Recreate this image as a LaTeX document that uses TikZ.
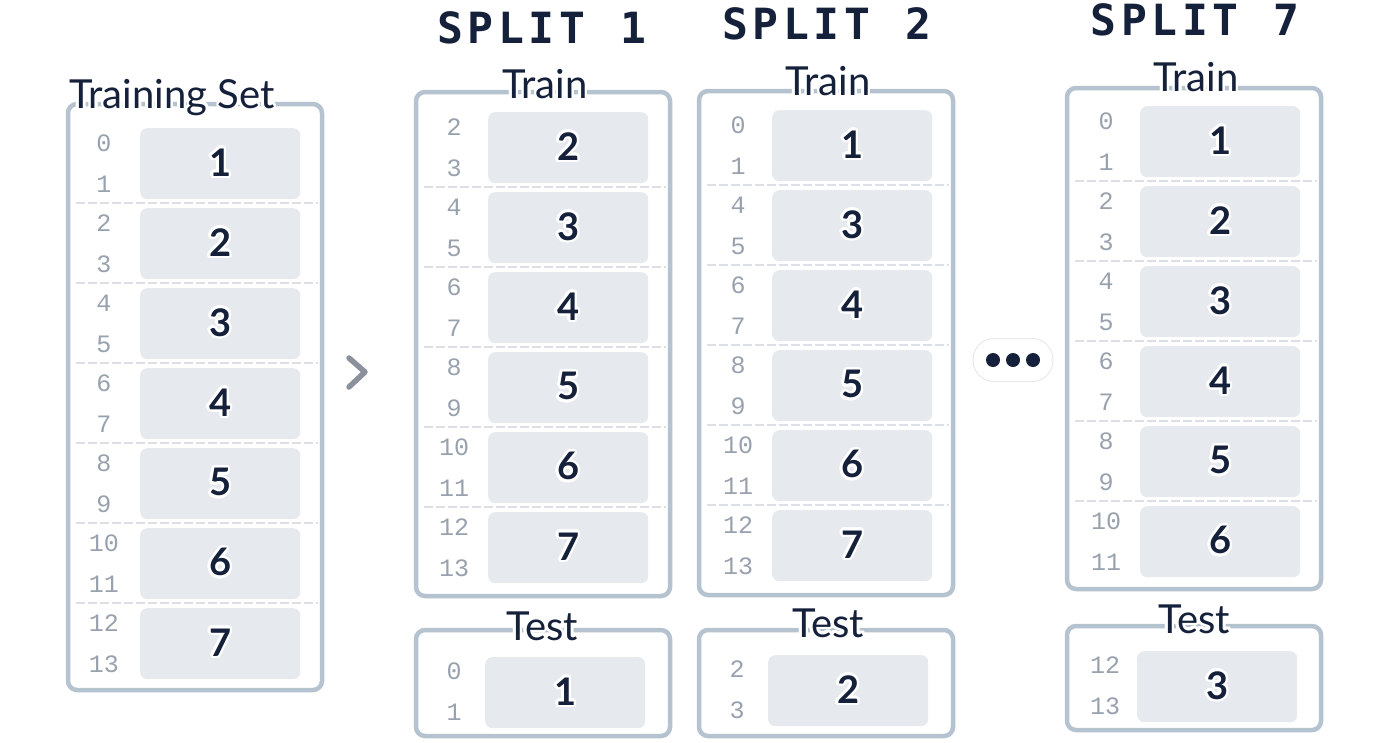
\documentclass[tikz,border=0pt]{standalone}
\usepackage{fontspec}
\setmainfont{Lato}
\newfontfamily\idxfont{Liberation Mono}
\newfontfamily\ttlfont{DejaVu Sans Mono}
\usepackage{contour}
\contourlength{2.6pt}
\contournumber{20}
\definecolor{bordercol}{HTML}{B5C2CF}
\definecolor{tilecol}{HTML}{E6E9EE}
\definecolor{sepcol}{HTML}{DCE0E6}
\definecolor{ink}{HTML}{15203A}
\definecolor{idxcol}{HTML}{98A1AE}
\definecolor{chev}{HTML}{8A919C}
\definecolor{pillcol}{HTML}{E6EAEE}

\newcommand\traincol[8]{% #1 name, #2 left, #3 top, #4 bottom, #5 tile x, #6 tile top, #7 list num/idx, #8 label x
  \node[frame, minimum width=254pt, minimum height={#4-#3}, anchor=north west] (#1) at (#2,#3) {};
  \foreach \n/\i [count=\k from 0] in {#7} {
    \node[tile, anchor=north west] (#1t\n) at (#5, #6+80*\k) {\contour{white}{\n}};
    \node[idx] (#1a\n) at (#8, #6+80*\k+15) {\i};
    \node[idx] (#1b\n) at (#8, #6+80*\k+56) {\the\numexpr\i+1\relax};
    \ifnum\k>0
      \draw[sep] (#2+8, #6+80*\k-5) -- (#2+250, #6+80*\k-5);
    \fi
  }
}
\newcommand\testcol[8]{% #1 name, #2 left, #3 top, #4 bottom, #5 tile x, #6 tile top, #7 num, #8 idx
  \node[frame, minimum width=254pt, minimum height={#4-#3}, anchor=north west] (#1) at (#2,#3) {};
  \node[tile, anchor=north west] (#1t) at (#5, #6) {\contour{white}{#7}};
  \node[idx] (#1a) at (#2+38, #6+14) {#8};
  \node[idx] (#1b) at (#2+38, #6+55) {\the\numexpr#8+1\relax};
}
\newcommand\splittitle[4]{% #1 name, #2 center x, #3 baseline, #4 digit
  \foreach \p/\c in {0/S,1/P,2/L,3/I,4/T,6/#4} {
    \node[ttl] (#1\p) at (#2+30.5*\p-91.5, #3) {\contour{white}{\c}};
  }
}

\begin{document}
\begin{tikzpicture}[x=1pt,y=-1pt,
  frame/.style={draw=bordercol, line width=4.5pt, rounded corners=9pt, inner sep=0pt, outer sep=0pt},
  tile/.style={fill=tilecol, rounded corners=7pt, minimum width=160pt, minimum height=71pt, inner sep=0pt,
    font=\fontsize{38}{38}\selectfont\bfseries, text=ink},
  idx/.style={font=\idxfont\fontsize{25}{25}\selectfont, text=idxcol, inner sep=0pt},
  lab/.style={font=\fontsize{40}{40}\selectfont, text=ink, anchor=base, inner sep=0pt},
  ttl/.style={font=\ttlfont\bfseries\fontsize{43}{43}\selectfont, text=ink, anchor=base, inner sep=0pt},
  sep/.style={draw=sepcol, line width=1.6pt, dash pattern=on 9pt off 3pt}]
\useasboundingbox (0,0) rectangle (1400,742);

% ---------- Training set ----------
\traincol{ts}{68}{104}{690}{140}{128}{1/0,2/2,3/4,4/6,5/8,6/10,7/12}{104}
\node[lab] (tslab) at (172,108) {\contour{white}{Training Set}};

% ---------- chevron ----------
\coordinate (chA) at (349,358);
\coordinate (chB) at (365,372);
\coordinate (chC) at (349,387);
\draw[draw=chev, line width=5.5pt, line cap=round, line join=round] (chA) -- (chB) -- (chC);

% ---------- Split 1 ----------
\splittitle{sa}{541.5}{43}{1}
\traincol{s1}{416}{92}{596}{488}{112}{2/2,3/4,4/6,5/8,6/10,7/12}{454}
\node[lab] (s1lab) at (545,98) {\contour{white}{Train}};
\testcol{s1x}{416}{630}{736}{485}{657}{1}{0}
\node[lab] (s1xlab) at (542,640) {\contour{white}{Test}};

% ---------- Split 2 ----------
\splittitle{sb}{826.5}{39}{2}
\traincol{s2}{699}{91}{595}{772}{110}{1/0,3/4,4/6,5/8,6/10,7/12}{738}
\node[lab] (s2lab) at (828,95) {\contour{white}{Train}};
\testcol{s2x}{699}{630}{736}{768}{655}{2}{2}
\node[lab] (s2xlab) at (828,637) {\contour{white}{Test}};

% ---------- dots ----------
\node[draw=pillcol, fill=white, line width=1pt, rounded corners=21pt, minimum width=80pt, minimum height=43pt] (pill) at (1013,360) {};
\foreach \dx [count=\j] in {-20,0,20} {
  \node[circle, fill=ink, minimum size=14pt, inner sep=0pt] (dot\j) at (1013+\dx,360) {};
}

% ---------- Split 7 ----------
\splittitle{sc}{1195}{35}{7}
\traincol{s7}{1067}{88}{589}{1140}{106}{1/0,2/2,3/4,4/6,5/8,6/10}{1106}
\node[lab] (s7lab) at (1196,91) {\contour{white}{Train}};
\testcol{s7x}{1067}{626}{730}{1137}{651}{3}{12}
\node[lab] (s7xlab) at (1194,633) {\contour{white}{Test}};
\end{tikzpicture}
\end{document}
